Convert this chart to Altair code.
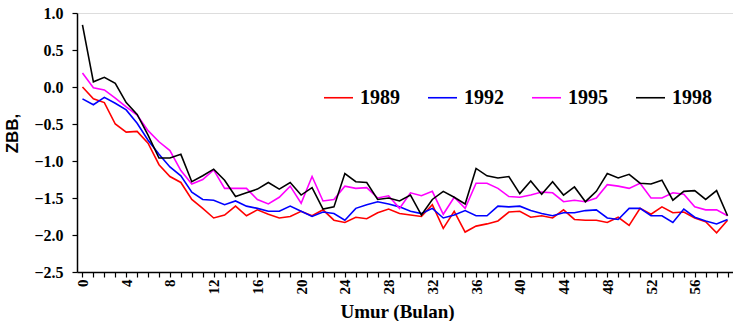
import altair as alt
import pandas as pd

months = list(range(60))
years = ["1989", "1992", "1995", "1998"]
colors = ["#FF0000", "#0000FF", "#FF00FF", "#000000"]

zbb_1989 = [0.00, -0.16, -0.21, -0.50, -0.61, -0.60, -0.76, -1.05, -1.21, -1.29,
            -1.52, -1.64, -1.77, -1.73, -1.61, -1.74, -1.66, -1.72, -1.77, -1.75,
            -1.68, -1.74, -1.66, -1.80, -1.83, -1.76, -1.78, -1.70, -1.65, -1.71,
            -1.73, -1.75, -1.59, -1.91, -1.68, -1.96, -1.88, -1.85, -1.81, -1.69,
            -1.68, -1.76, -1.74, -1.77, -1.66, -1.79, -1.80, -1.80, -1.83, -1.76,
            -1.87, -1.64, -1.72, -1.62, -1.70, -1.69, -1.77, -1.82, -1.97, -1.80]

zbb_1992 = [-0.16, -0.24, -0.14, -0.22, -0.31, -0.49, -0.72, -0.91, -1.08, -1.20,
            -1.42, -1.52, -1.53, -1.59, -1.54, -1.61, -1.64, -1.68, -1.68, -1.61,
            -1.68, -1.75, -1.69, -1.71, -1.80, -1.64, -1.59, -1.55, -1.58, -1.62,
            -1.68, -1.71, -1.64, -1.77, -1.73, -1.67, -1.74, -1.74, -1.61, -1.62,
            -1.61, -1.67, -1.71, -1.74, -1.70, -1.70, -1.67, -1.66, -1.77, -1.79,
            -1.64, -1.64, -1.74, -1.74, -1.83, -1.65, -1.76, -1.81, -1.85, -1.79]

zbb_1995 = [0.19, -0.01, -0.04, -0.15, -0.27, -0.38, -0.59, -0.74, -0.86, -1.13,
            -1.31, -1.25, -1.12, -1.37, -1.37, -1.37, -1.52, -1.58, -1.49, -1.34,
            -1.57, -1.21, -1.54, -1.52, -1.34, -1.37, -1.36, -1.50, -1.47, -1.64,
            -1.43, -1.47, -1.41, -1.72, -1.49, -1.64, -1.30, -1.30, -1.37, -1.48,
            -1.49, -1.46, -1.42, -1.43, -1.55, -1.53, -1.55, -1.50, -1.32, -1.34,
            -1.37, -1.30, -1.50, -1.50, -1.43, -1.45, -1.62, -1.66, -1.66, -1.74]

zbb_1998 = [0.84, 0.07, 0.13, 0.05, -0.21, -0.37, -0.65, -0.96, -0.96, -0.91,
            -1.28, -1.20, -1.11, -1.26, -1.48, -1.43, -1.38, -1.29, -1.38, -1.29,
            -1.46, -1.36, -1.65, -1.62, -1.17, -1.28, -1.29, -1.52, -1.50, -1.54,
            -1.46, -1.73, -1.52, -1.41, -1.49, -1.58, -1.10, -1.20, -1.23, -1.21,
            -1.44, -1.27, -1.45, -1.28, -1.46, -1.35, -1.55, -1.41, -1.17, -1.23,
            -1.18, -1.30, -1.31, -1.26, -1.53, -1.41, -1.40, -1.52, -1.40, -1.74]

series = [zbb_1989, zbb_1992, zbb_1995, zbb_1998]
rows = []
for yr, vals in zip(years, series):
    for m, v in zip(months, vals):
        rows.append({"Umur": m, "ZBB": v, "Tahun": yr})
df = pd.DataFrame(rows)

y_ticks = [-2.5, -2.0, -1.5, -1.0, -0.5, 0.0, 0.5, 1.0]

chart = alt.Chart(df).mark_line(strokeWidth=1.6).encode(
    x=alt.X("Umur:Q",
            scale=alt.Scale(domain=[-0.5, 59.5], nice=False, zero=False),
            axis=alt.Axis(title="Umur (Bulan)", values=months,
                          labelExpr="datum.value % 4 == 0 ? datum.label : ''",
                          labelAngle=270, labelOverlap=False,
                          labelFont="Liberation Serif", labelFontWeight="bold",
                          labelFontSize=15, labelColor="black", labelPadding=2,
                          tickSize=5, tickColor="black", tickWidth=1.2,
                          domainColor="black", domainWidth=1.5, grid=False,
                          titleFont="Liberation Serif", titleFontWeight="bold",
                          titleFontSize=19, titleColor="black",
                          titleX=320, titleY=30, titleBaseline="top")),
    y=alt.Y("ZBB:Q",
            scale=alt.Scale(domain=[-2.5, 1.0], nice=False, zero=False),
            axis=alt.Axis(title="ZBB,", values=y_ticks, format=".1f",
                          labelFont="Liberation Serif", labelFontWeight="bold",
                          labelFontSize=16, labelColor="black", labelPadding=9,
                          tickSize=5, tickColor="black", tickWidth=1.2,
                          domainColor="black", domainWidth=1.5, grid=False,
                          titleFont="Liberation Sans", titleFontWeight="bold",
                          titleFontSize=17, titleColor="black",
                          titleAngle=270, titleX=-56, titleY=120)),
    color=alt.Color("Tahun:N",
                    scale=alt.Scale(domain=years, range=colors),
                    legend=alt.Legend(title=None, orient="none", direction="horizontal",
                                      columns=4, legendX=246, legendY=69,
                                      symbolType="stroke", symbolSize=841,
                                      symbolStrokeWidth=1.6, labelOffset=6,
                                      columnPadding=24, padding=0,
                                      labelFont="Liberation Serif", labelFontWeight="bold",
                                      labelFontSize=20, labelColor="black")),
    order=alt.Order("Tahun:N"),
).properties(
    width=656, height=259,
    autosize=alt.AutoSizeParams(type="none"),
    padding={"left": 77, "top": 13, "right": 0, "bottom": 49},
).configure_view(stroke="black", strokeWidth=1.5).configure(background="white")

chart.save("out.html", embed_options={"renderer": "svg", "actions": False})
